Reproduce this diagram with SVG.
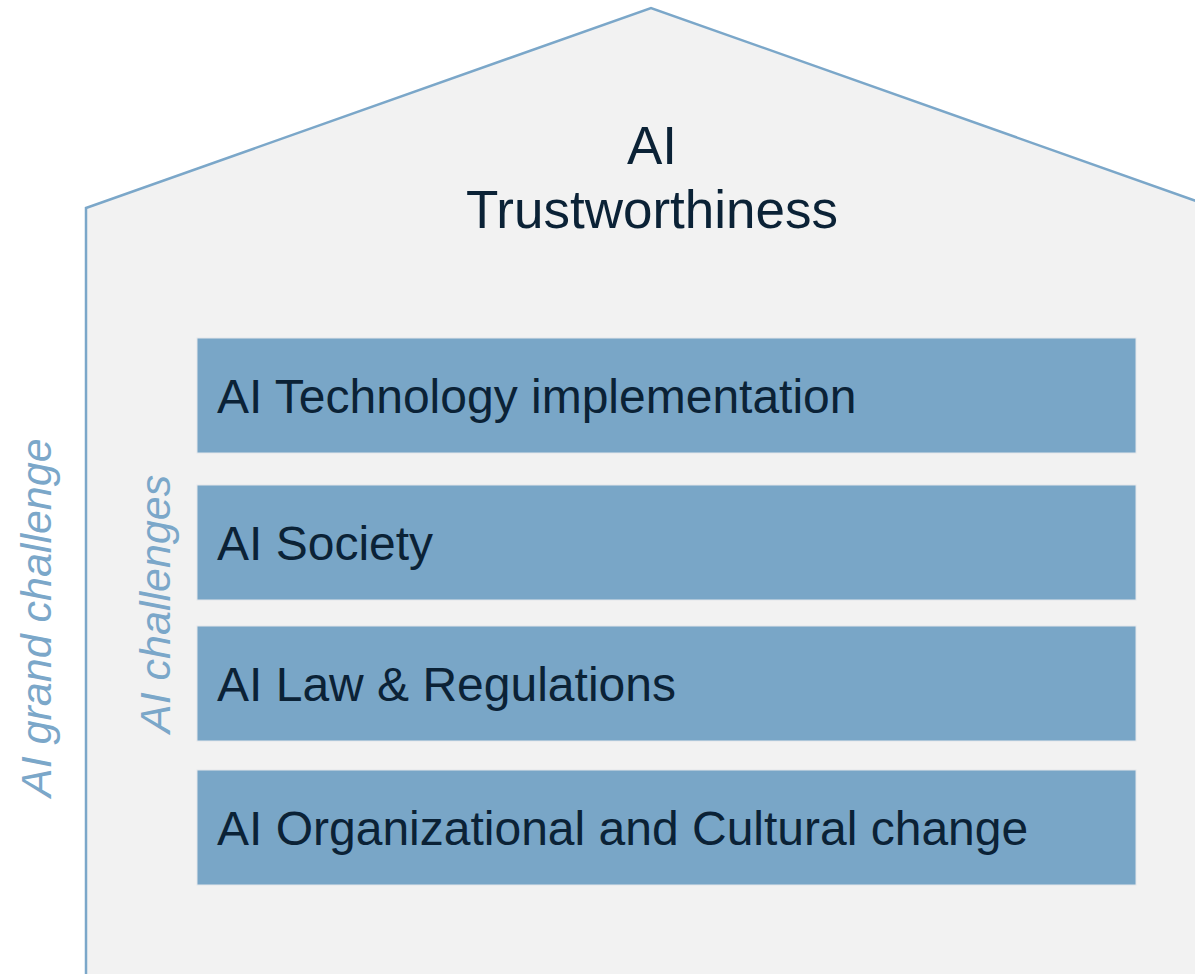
<svg xmlns="http://www.w3.org/2000/svg" width="1195" height="974" viewBox="0 0 1195 974">
<style>
.box{fill:#79a6c7;stroke:#e3e6ea;stroke-width:1}
.lbl{font-family:"Liberation Sans",Arial,sans-serif;font-size:48px;fill:#0b2236}
.title{font-family:"Liberation Sans",Arial,sans-serif;font-size:53px;fill:#0b2236;text-anchor:middle}
.side{font-family:"Liberation Sans",Arial,sans-serif;font-size:43px;font-style:italic;fill:#7ba7c9}
</style>
<rect width="1195" height="974" fill="#ffffff"/>
<g id="house">
<polygon points="86,208 651,8 1216,208 1216,990 86,990" fill="#f2f2f2" stroke="#7ba7c9" stroke-width="2.5"/>
<text class="title" x="652" y="164">AI</text>
<text class="title" x="652" y="228">Trustworthiness</text>
</g>
<g id="grand">
<text class="side" transform="translate(51,797) rotate(-90)">AI grand challenge</text>
</g>
<g id="challenges">
<text class="side" transform="translate(170,733) rotate(-90)">AI challenges</text>
</g>
<g id="n1"><rect class="box" x="197" y="338" width="939" height="115"/><text class="lbl" x="217" y="413">AI Technology implementation</text></g>
<g id="n2"><rect class="box" x="197" y="485" width="939" height="115"/><text class="lbl" x="217" y="560">AI Society</text></g>
<g id="n3"><rect class="box" x="197" y="626" width="939" height="115"/><text class="lbl" x="217" y="701">AI Law &amp; Regulations</text></g>
<g id="n4"><rect class="box" x="197" y="770" width="939" height="115"/><text class="lbl" x="217" y="845">AI Organizational and Cultural change</text></g>
<g id="connectors"></g>
</svg>
